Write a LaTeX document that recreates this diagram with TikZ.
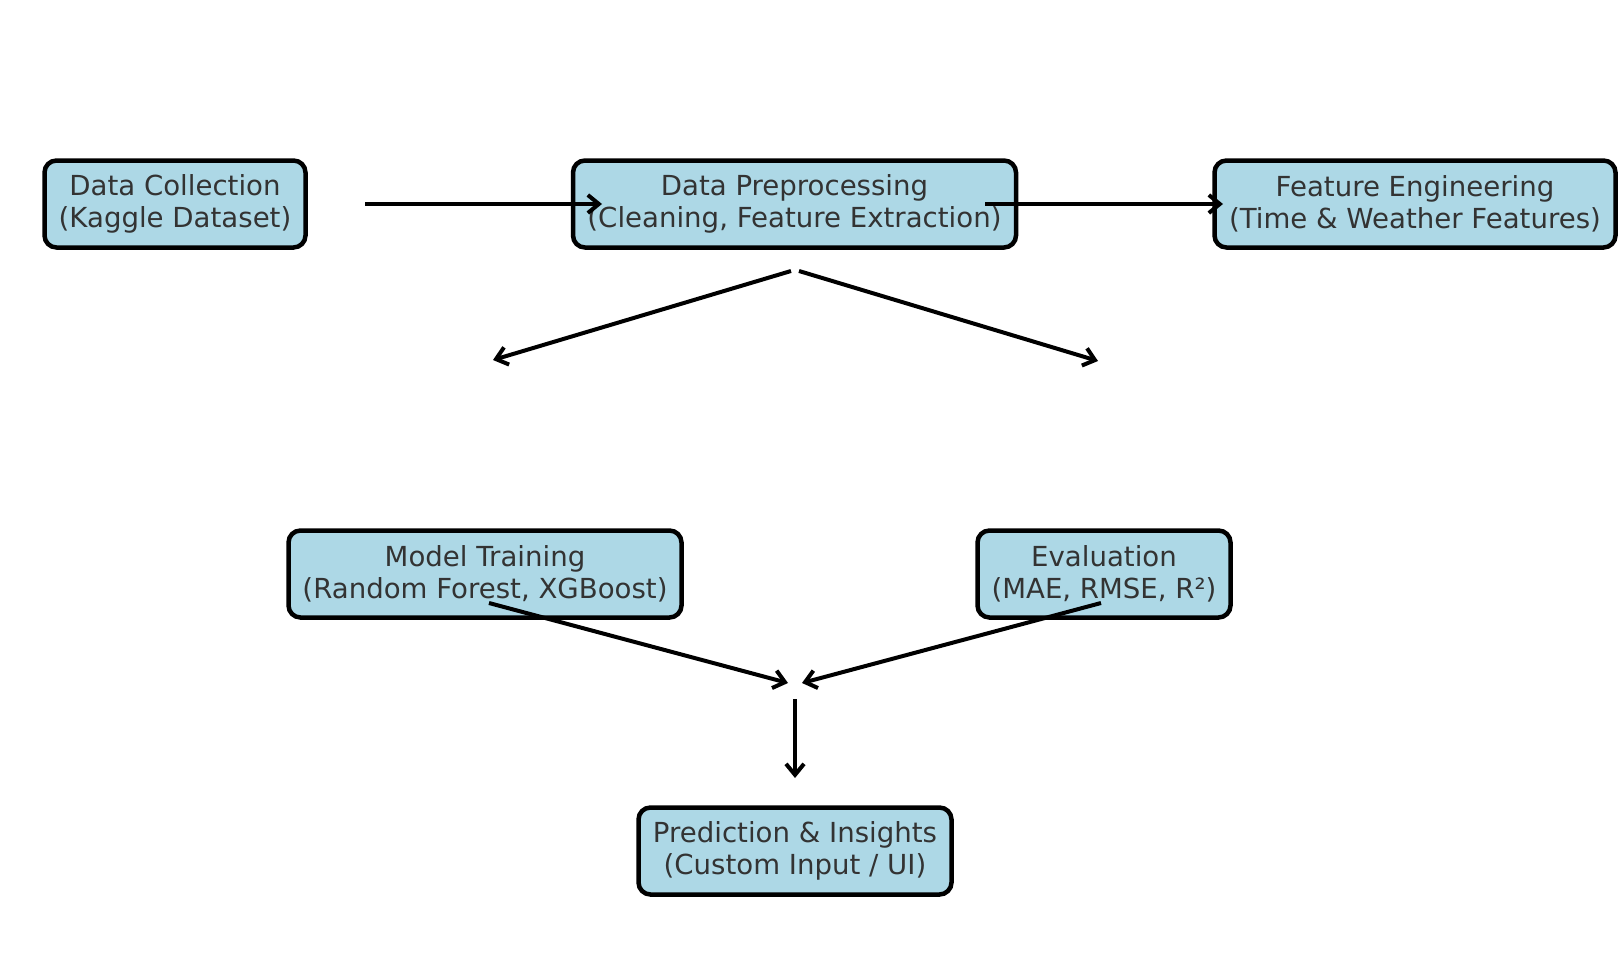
\documentclass[tikz,border=0pt]{standalone}
\usepackage{fontspec}
\setmainfont{DejaVu Sans}
\usetikzlibrary{arrows.meta}
\definecolor{boxfill}{HTML}{ADD8E6}
\definecolor{txt}{HTML}{333333}
\tikzset{
  stage/.style={draw=black, line width=4.5pt, fill=boxfill, rounded corners=12pt,
    align=center, text=txt, font=\fontsize{27.6}{32}\selectfont,
    minimum height=87pt, inner xsep=10pt, inner ysep=4pt},
  flow/.style={draw=black, line width=4pt,
    -{Straight Barb[length=11pt,width=18pt,line width=4pt]}}
}
\begin{document}
\begin{tikzpicture}[x=1pt,y=-1pt]
\useasboundingbox (0,0) rectangle (1621,964);
\node[stage, minimum width=261pt] (dc) at (175,204) {Data Collection\\(Kaggle Dataset)};
\node[stage, minimum width=443pt] (dp) at (794.5,204) {Data Preprocessing\\(Cleaning, Feature Extraction)};
\node[stage, minimum width=401pt] (fe) at (1415,204) {Feature Engineering\\(Time \& Weather Features)};
\node[stage, minimum width=393pt] (mt) at (485,574) {Model Training\\(Random Forest, XGBoost)};
\node[stage, minimum width=253pt] (ev) at (1104,574) {Evaluation\\(MAE, RMSE, R²)};
\node[stage, minimum width=313pt] (pr) at (795,851) {Prediction \& Insights\\(Custom Input / UI)};
\coordinate (a1s) at (365,204); \coordinate (a1e) at (602,204);
\coordinate (a2s) at (985,204); \coordinate (a2e) at (1223,204);
\coordinate (a3s) at (791,271); \coordinate (a3e) at (493,360);
\coordinate (a4s) at (799,271); \coordinate (a4e) at (1098,361);
\coordinate (a5s) at (489,603); \coordinate (a5e) at (788,683);
\coordinate (a6s) at (1101,603); \coordinate (a6e) at (802,683);
\coordinate (a7s) at (795,699); \coordinate (a7e) at (795,778);
\draw[flow] (a1s) -- (a1e);
\draw[flow] (a2s) -- (a2e);
\draw[flow] (a3s) -- (a3e);
\draw[flow] (a4s) -- (a4e);
\draw[flow] (a5s) -- (a5e);
\draw[flow] (a6s) -- (a6e);
\draw[flow] (a7s) -- (a7e);
\end{tikzpicture}
\end{document}
